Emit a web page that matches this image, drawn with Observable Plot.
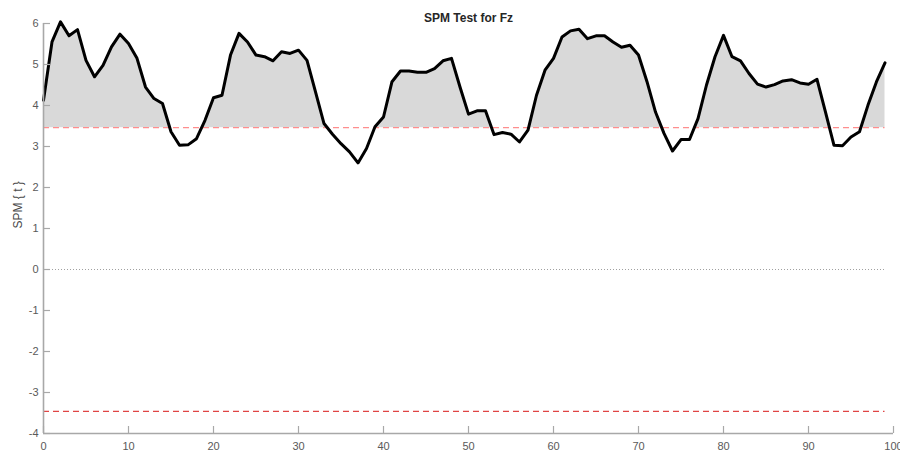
<!DOCTYPE html>
<html>
<head>
<meta charset="utf-8">
<script src="https://cdn.jsdelivr.net/npm/d3@7"></script>
<script src="https://cdn.jsdelivr.net/npm/@observablehq/plot@0.6"></script>
<style>
  html, body { margin: 0; padding: 0; background: #ffffff; }
  #chart svg { display: block; }
</style>
</head>
<body>
<div id="chart"></div>
<script>
// ---- data ----
const title = "SPM Test for Fz";
const yLabel = "SPM { t }";
const spmT = [
  4.13, 5.55, 6.04, 5.70, 5.85, 5.10, 4.70, 4.98, 5.43, 5.74,
  5.51, 5.15, 4.45, 4.17, 4.05, 3.36, 3.03, 3.04, 3.19, 3.64,
  4.19, 4.25, 5.23, 5.76, 5.55, 5.23, 5.19, 5.09, 5.31, 5.27,
  5.35, 5.10, 4.33, 3.56, 3.30, 3.07, 2.87, 2.60, 2.95, 3.48,
  3.72, 4.58, 4.84, 4.84, 4.81, 4.81, 4.90, 5.09, 5.15, 4.45,
  3.79, 3.87, 3.87, 3.29, 3.34, 3.30, 3.11, 3.40, 4.25, 4.86,
  5.15, 5.67, 5.82, 5.86, 5.63, 5.70, 5.70, 5.55, 5.42, 5.47,
  5.23, 4.58, 3.84, 3.32, 2.89, 3.17, 3.17, 3.68, 4.50, 5.19,
  5.71, 5.19, 5.09, 4.78, 4.52, 4.45, 4.51, 4.60, 4.63, 4.55,
  4.52, 4.64, 3.84, 3.03, 3.02, 3.23, 3.36, 4.01, 4.58, 5.04
];
const criticalT = 3.46;
const xTicks = [0, 10, 20, 30, 40, 50, 60, 70, 80, 90, 100];
const yTicks = [-4, -3, -2, -1, 0, 1, 2, 3, 4, 5, 6];

// ---- derived tables ----
const series = spmT.map((v, i) => ({x: i, y: v}));
// suprathreshold fill: clip curve at the threshold, adding crossing points
const fillPts = [];
for (let i = 0; i < series.length; i++) {
  const a = series[i];
  fillPts.push({x: a.x, y: Math.max(a.y, criticalT)});
  if (i < series.length - 1) {
    const b = series[i + 1];
    if ((a.y - criticalT) * (b.y - criticalT) < 0) {
      const t = (criticalT - a.y) / (b.y - a.y);
      fillPts.push({x: a.x + t * (b.x - a.x), y: criticalT});
    }
  }
}
const xEnd = series[series.length - 1].x;

const W = 900, H = 456;
const mL = 43, mR = 7, mT = 23, mB = 23;
const plotW = W - mL - mR, plotH = H - mT - mB;
const axisGray = "#a8a8a8";
const labelGray = "#5a5a5a";
const fmt = d => String(d);

const chart = Plot.plot({
  width: W,
  height: H,
  marginLeft: mL,
  marginRight: mR,
  marginTop: mT,
  marginBottom: mB,
  style: {fontFamily: "'Liberation Sans', Arial, sans-serif", fontSize: "11px", background: "#ffffff"},
  x: {domain: [0, 100]},
  y: {domain: [-4, 6]},
  marks: [
    Plot.areaY(fillPts, {x: "x", y1: criticalT, y2: "y", fill: "#d9d9d9"}),
    Plot.ruleY([0], {x1: 0, x2: xEnd, stroke: "#a0a0a0", strokeWidth: 1, strokeDasharray: "1,2"}),
    Plot.ruleY([criticalT], {x1: 0, x2: xEnd, stroke: "#ff8e8e", strokeWidth: 1.3, strokeDasharray: "6,4"}),
    Plot.ruleY([-criticalT], {x1: 0, x2: xEnd, stroke: "#e04545", strokeWidth: 1.1, strokeDasharray: "6,4"}),
    Plot.line(series, {x: "x", y: "y", stroke: "#000000", strokeWidth: 3, strokeLinejoin: "round", strokeLinecap: "round"}),
    // axis lines
    Plot.ruleX([0], {y1: -4, y2: 6, stroke: axisGray, strokeWidth: 1.6}),
    Plot.ruleY([-4], {x1: 0, x2: 100, stroke: axisGray, strokeWidth: 1.6}),
    // inward ticks
    Plot.tickY(yTicks, {y: d => d, stroke: axisGray, strokeWidth: 1.2, insetRight: plotW - 7}),
    Plot.tickX(xTicks, {x: d => d, stroke: axisGray, strokeWidth: 1.2, insetTop: plotH - 7}),
    // tick labels
    Plot.axisY(yTicks, {tickSize: 0, tickPadding: 5, tickFormat: fmt, fill: labelGray, label: null, fontSize: 11}),
    Plot.axisX(xTicks, {tickSize: 0, tickPadding: 9, tickFormat: fmt, fill: labelGray, label: null, fontSize: 11}),
    // y label
    Plot.text([yLabel], {frameAnchor: "left", rotate: -90, dx: -25, fill: "#4a4a4a", fontSize: 12}),
    // title
    Plot.text([title], {frameAnchor: "top", dy: -10, fill: "#262626", fontWeight: "bold", fontSize: 12})
  ]
});
document.getElementById("chart").appendChild(chart);
</script>
</body>
</html>
